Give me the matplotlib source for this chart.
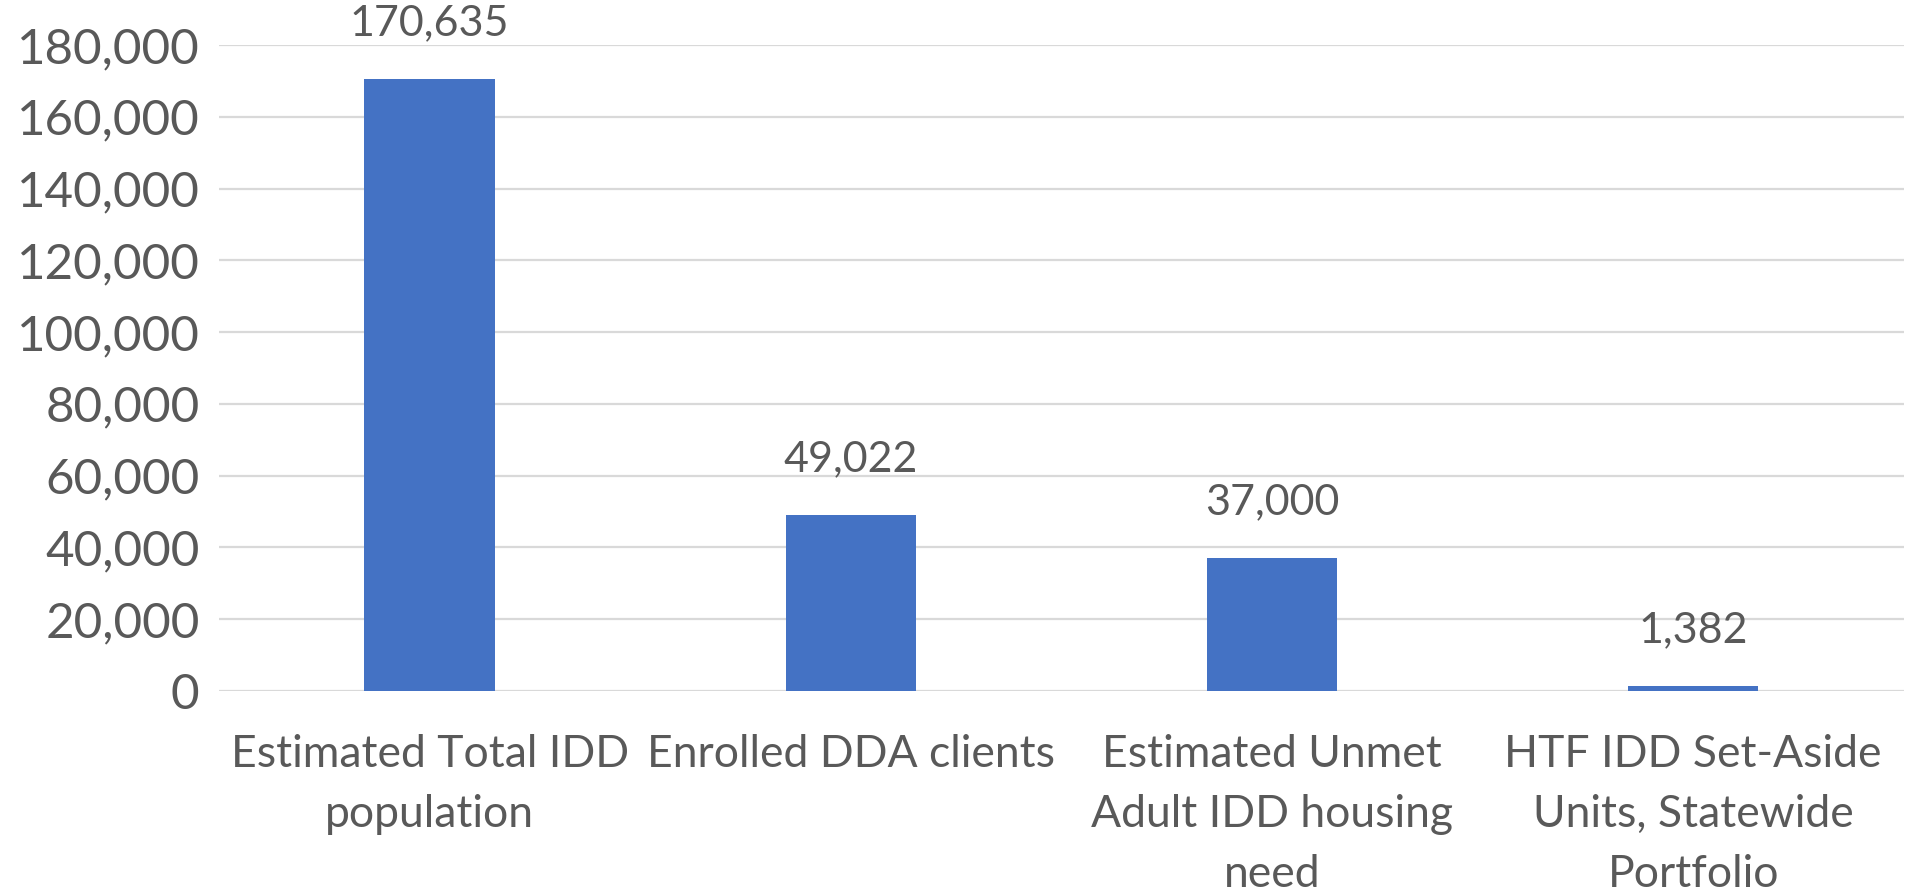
import matplotlib
matplotlib.use("Agg")
import matplotlib.pyplot as plt
from matplotlib.ticker import FuncFormatter

categories = ["Estimated Total IDD\npopulation",
              "Enrolled DDA clients",
              "Estimated Unmet\nAdult IDD housing\nneed",
              "HTF IDD Set-Aside\nUnits, Statewide\nPortfolio"]
values = [170635, 49022, 37000, 1382]
yticks = list(range(0, 180001, 20000))

plt.rcParams['font.family'] = ['Lato', 'DejaVu Sans']
gray = "#595959"

fig = plt.figure(figsize=(19.08, 8.96), dpi=100)
ax = fig.add_axes([0.1148, 0.2288, 0.883, 0.721])

x = range(len(categories))
bars = ax.bar(x, values, width=0.31, color="#4472C4", zorder=3)

# value labels above bars
for b, v in zip(bars, values):
    ax.annotate(f"{v:,}", (b.get_x() + b.get_width() / 2, v),
                xytext=(0, 40), textcoords="offset points",
                ha="center", va="center", fontsize=31, color=gray)

ax.set_xlim(-0.5, len(categories) - 0.5)
ax.set_ylim(0, 180000)
ax.set_yticks(yticks)
ax.yaxis.set_major_formatter(FuncFormatter(lambda v, p: f"{int(v):,}"))
ax.grid(axis="y", color="#D9D9D9", linewidth=1.6, zorder=0)
for s in ax.spines.values():
    s.set_visible(False)
ax.set_xticks(list(x))
ax.set_xticklabels(categories, linespacing=1.58, fontsize=32)
ax.tick_params(axis="both", length=0, labelcolor=gray)
ax.tick_params(axis="y", pad=14, labelsize=35.5)
ax.tick_params(axis="x", pad=31)

fig.savefig("out.png", dpi=100)
